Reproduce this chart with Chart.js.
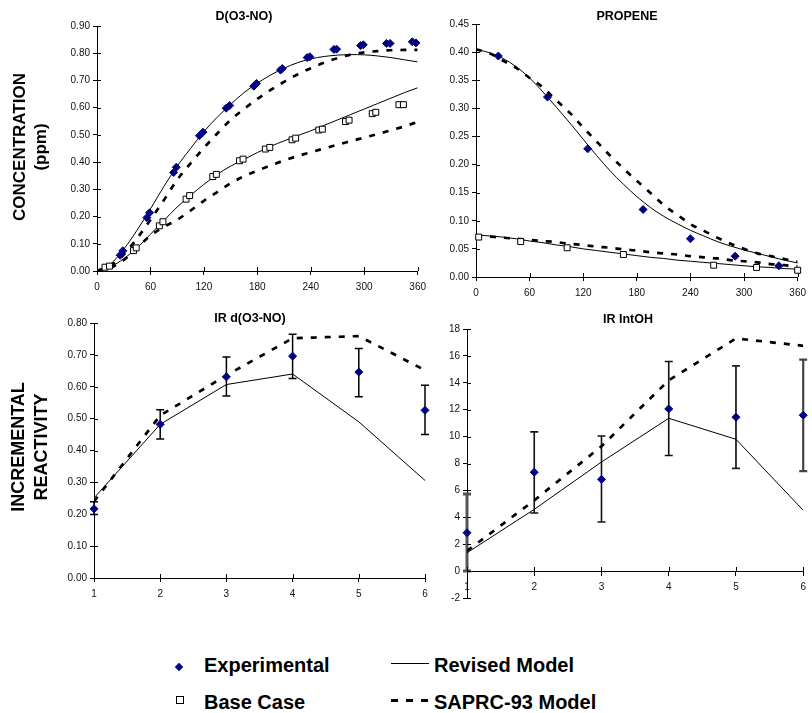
<!DOCTYPE html>
<html>
<head>
<meta charset="utf-8">
<script src="https://cdn.jsdelivr.net/npm/chart.js@4.4.0/dist/chart.umd.min.js"></script>
<style>
  body { margin: 0; background: #fff; width: 812px; height: 713px; position: relative; overflow: hidden;
         font-family: "Liberation Sans", Arial, sans-serif; color: #000; }
  canvas { position: absolute; }
  .title { position: absolute; font-weight: bold; font-size: 12.5px; transform: translate(-50%, -50%); white-space: nowrap; }
  .ytitle { position: absolute; font-weight: bold; text-align: center; transform: rotate(-90deg); white-space: nowrap; }
  .leg { position: absolute; font-weight: bold; font-size: 20px; line-height: 20px; white-space: nowrap; }
</style>
</head>
<body>
<canvas id="cA" width="432" height="300" style="left:0;top:0"></canvas>
<canvas id="cB" width="380" height="305" style="left:432px;top:0"></canvas>
<canvas id="cC" width="440" height="310" style="left:0;top:300px"></canvas>
<canvas id="cD" width="372" height="310" style="left:440px;top:305px"></canvas>

<div class="title" style="left:244px;top:16px">D(O3-NO)</div>
<div class="title" style="left:627px;top:16px">PROPENE</div>
<div class="title" style="left:250px;top:318px">IR d(O3-NO)</div>
<div class="title" style="left:628px;top:319px">IR IntOH</div>

<div class="ytitle" style="left:-70px;top:126px;width:200px;height:42px;font-size:17px;line-height:21px">CONCENTRATION<br>(ppm)</div>
<div class="ytitle" style="left:-70px;top:424px;width:200px;height:46px;font-size:18px;line-height:23px">INCREMENTAL<br>REACTIVITY</div>

<div style="position:absolute;left:176px;top:664px;width:6px;height:6px;background:#000080;transform:rotate(45deg)"></div>
<div class="leg" style="left:204px;top:655px">Experimental</div>
<div style="position:absolute;left:176px;top:696px;width:6px;height:6px;border:1px solid #000;background:#fff"></div>
<div class="leg" style="left:204px;top:692px">Base Case</div>
<div style="position:absolute;left:391px;top:663px;width:38px;height:1px;background:#000"></div>
<div class="leg" style="left:434px;top:655px">Revised Model</div>
<div style="position:absolute;left:391px;top:699px;width:37px;height:3px;background:repeating-linear-gradient(to right,#000 0 6.5px,transparent 6.5px 15px)"></div>
<div class="leg" style="left:434px;top:692px">SAPRC-93 Model</div>

<script>
const FONT = '"Liberation Sans", Arial, sans-serif';

// time axis (minutes) for the model curves
const timeGrid = [0, 15, 30, 45, 60, 75, 90, 105, 120, 135, 150, 165, 180,
                  195, 210, 225, 240, 255, 270, 285, 300, 315, 330, 345, 360];

// D(O3-NO)
const dExpTime = [26, 29, 56, 59, 86, 89, 115, 119, 145, 149, 176, 179, 206, 208,
                  236, 239, 266, 269, 296, 299, 325, 329, 354, 358];
const dExp = [0.058, 0.074, 0.196, 0.214, 0.362, 0.381, 0.497, 0.510, 0.598, 0.608,
              0.679, 0.689, 0.738, 0.744, 0.784, 0.787, 0.814, 0.815, 0.828, 0.831,
              0.836, 0.836, 0.842, 0.838];
const dBaseTime = [9, 14, 41, 44, 70, 74, 100, 104, 130, 134, 160, 164, 189, 194,
                   219, 223, 249, 253, 279, 283, 309, 313, 339, 344];
const dBase = [0.014, 0.018, 0.075, 0.085, 0.166, 0.181, 0.264, 0.277, 0.347, 0.355,
               0.405, 0.411, 0.448, 0.454, 0.482, 0.488, 0.518, 0.521, 0.549, 0.554,
               0.578, 0.583, 0.611, 0.611];
const dRevised = [0, 0.025, 0.08, 0.15, 0.228, 0.31, 0.385, 0.45, 0.512, 0.565, 0.612, 0.655, 0.69,
                  0.72, 0.745, 0.765, 0.779, 0.788, 0.793, 0.795, 0.794, 0.79, 0.784, 0.776, 0.768];
const dSaprc = [0, 0.02, 0.06, 0.12, 0.188, 0.26, 0.335, 0.395, 0.452, 0.505, 0.555, 0.595, 0.632,
                0.665, 0.695, 0.722, 0.745, 0.765, 0.782, 0.795, 0.803, 0.808, 0.811, 0.812, 0.812];
const dRevisedBase = [0, 0.015, 0.045, 0.085, 0.135, 0.185, 0.235, 0.278, 0.318, 0.355, 0.385, 0.41, 0.435,
                      0.458, 0.478, 0.497, 0.515, 0.535, 0.555, 0.575, 0.595, 0.615, 0.635, 0.655, 0.673];
const dSaprcBase = [0, 0.012, 0.04, 0.085, 0.13, 0.162, 0.188, 0.222, 0.258, 0.29, 0.322, 0.348, 0.369,
                    0.388, 0.406, 0.422, 0.436, 0.45, 0.464, 0.477, 0.49, 0.503, 0.517, 0.531, 0.548];

// PROPENE
const pExpTime = [25, 80, 125, 187, 240, 290, 339];
const pExp = [0.393, 0.32, 0.228, 0.12, 0.068, 0.037, 0.020];
const pBaseTime = [3, 50, 102, 165, 266, 314, 360];
const pBase = [0.071, 0.063, 0.052, 0.040, 0.021, 0.017, 0.012];
const pRevised = [0.405, 0.399, 0.389, 0.374, 0.354, 0.329, 0.302, 0.274, 0.245, 0.216, 0.189, 0.165, 0.143,
                  0.124, 0.108, 0.095, 0.083, 0.073, 0.063, 0.055, 0.048, 0.042, 0.036, 0.030, 0.025];
const pSaprc = [0.405, 0.398, 0.385, 0.372, 0.354, 0.337, 0.314, 0.292, 0.266, 0.241, 0.216, 0.193, 0.171,
                0.150, 0.128, 0.111, 0.094, 0.082, 0.070, 0.059, 0.050, 0.042, 0.037, 0.032, 0.027];
const pRevisedBase = [0.075, 0.073, 0.071, 0.068, 0.064, 0.061, 0.057, 0.054, 0.050, 0.047, 0.044, 0.041, 0.038,
                      0.035, 0.033, 0.030, 0.028, 0.026, 0.024, 0.022, 0.020, 0.018, 0.017, 0.015, 0.014];
const pSaprcBase = [0.074, 0.072, 0.070, 0.068, 0.066, 0.064, 0.062, 0.059, 0.057, 0.054, 0.052, 0.049, 0.047,
                    0.044, 0.042, 0.040, 0.037, 0.035, 0.033, 0.030, 0.028, 0.026, 0.023, 0.021, 0.019];

// incremental reactivity, runs 1..6
const irRuns = [1, 2, 3, 4, 5, 6];
const irDExp = [0.217, 0.482, 0.631, 0.696, 0.646, 0.526];
const irDLow = [0.199, 0.436, 0.571, 0.626, 0.569, 0.450];
const irDHigh = [0.239, 0.528, 0.693, 0.765, 0.720, 0.605];
const irDRevised = [0.251, 0.482, 0.607, 0.640, 0.490, 0.306];
const irDSaprc = [0.240, 0.510, 0.636, 0.752, 0.759, 0.652];

const irOHExp = [2.85, 7.35, 6.82, 12.06, 11.44, 11.59];
const irOHLow = [0, 4.32, 3.65, 8.59, 7.64, 7.44];
const irOHHigh = [5.73, 10.35, 10.05, 15.58, 15.26, 15.73];
const irOHRevised = [1.36, 4.59, 8.11, 11.36, 9.80, 4.52];
const irOHSaprc = [1.5, 5.26, 9.28, 14.19, 17.30, 16.75];

const pts = (xs, ys) => xs.map((x, i) => ({ x: x, y: ys[i] }));

function expSet(xs, ys) {
  return { data: pts(xs, ys), showLine: false, pointStyle: 'rectRot', pointRadius: 4,
           pointBackgroundColor: '#000080', pointBorderColor: '#000080', pointBorderWidth: 1, clip: 8 };
}
function baseSet(xs, ys) {
  return { data: pts(xs, ys), showLine: false, pointStyle: 'rect', pointRadius: 4.2,
           pointBackgroundColor: '#fff', pointBorderColor: '#000', pointBorderWidth: 1, clip: 8 };
}
function revisedSet(xs, ys, smooth) {
  return { data: pts(xs, ys), borderColor: '#000', borderWidth: 1, pointRadius: 0, fill: false,
           cubicInterpolationMode: smooth ? 'monotone' : 'default', tension: 0 };
}
function saprcSet(xs, ys, smooth) {
  return { data: pts(xs, ys), borderColor: '#000', borderWidth: 2.7, borderDash: [6, 8], pointRadius: 0,
           fill: false, cubicInterpolationMode: smooth ? 'monotone' : 'default', tension: 0 };
}

// excel style tick marks that cross the axis line
const crossTicks = {
  id: 'crossTicks',
  afterDraw(chart) {
    const { ctx, chartArea } = chart;
    const xs = chart.scales.x, ys = chart.scales.y;
    const axisY = Math.round(ys.getPixelForValue(Math.max(ys.min, 0)));
    ctx.save();
    ctx.strokeStyle = '#000';
    ctx.lineWidth = 1;
    ctx.beginPath();
    xs.ticks.forEach(t => {
      const px = Math.round(xs.getPixelForValue(t.value)) + 0.5;
      ctx.moveTo(px, axisY);
      ctx.lineTo(px, axisY - 4);
    });
    ys.ticks.forEach(t => {
      const py = Math.round(ys.getPixelForValue(t.value)) + 0.5;
      ctx.moveTo(chartArea.left, py);
      ctx.lineTo(chartArea.left + 4, py);
    });
    ctx.stroke();
    ctx.restore();
  }
};

function errorBars(xs, lows, highs, colors, widths) {
  return {
    id: 'errorBars',
    beforeDatasetsDraw(chart) {
      const { ctx } = chart;
      const sx = chart.scales.x, sy = chart.scales.y;
      ctx.save();
      xs.forEach((xv, i) => {
        const px = sx.getPixelForValue(xv);
        const top = sy.getPixelForValue(highs[i]);
        const bot = sy.getPixelForValue(lows[i]);
        ctx.strokeStyle = colors[i];
        ctx.lineWidth = widths[i];
        ctx.beginPath();
        ctx.moveTo(px, top); ctx.lineTo(px, bot);
        ctx.moveTo(px - 4, top); ctx.lineTo(px + 4, top);
        ctx.moveTo(px - 4, bot); ctx.lineTo(px + 4, bot);
        ctx.stroke();
      });
      ctx.restore();
    }
  };
}

function makePanel(id, o) {
  return new Chart(document.getElementById(id), {
    type: 'line',
    data: { datasets: o.datasets },
    options: {
      responsive: false,
      animation: false,
      layout: { padding: o.padding },
      plugins: { legend: { display: false }, tooltip: { enabled: false } },
      scales: {
        x: {
          type: 'linear', position: o.xPos || 'bottom', min: o.xMin, max: o.xMax,
          ticks: { stepSize: o.xStep, color: '#111', font: { size: 10, family: FONT }, padding: 6,
                   maxRotation: 0, autoSkip: false },
          grid: { drawOnChartArea: false, tickLength: 4, color: '#000' },
          border: { color: '#000', width: 1 },
          afterFit: s => { s.height = o.xh; }
        },
        y: {
          type: 'linear', min: o.yMin, max: o.yMax,
          ticks: { stepSize: o.yStep, color: '#111', font: { size: 10, family: FONT }, padding: 3,
                   autoSkip: false, callback: v => v.toFixed(o.yDec) },
          grid: { drawOnChartArea: false, tickLength: 4, color: '#000' },
          border: { color: '#000', width: 1 },
          afterFit: s => { s.width = o.yw; }
        }
      }
    },
    plugins: [crossTicks].concat(o.extra || [])
  });
}

makePanel('cA', {
  xMin: 0, xMax: 360, xStep: 60, yMin: 0, yMax: 0.9, yStep: 0.1, yDec: 2,
  yw: 97, xh: 29, padding: { left: 0, top: 26, right: 13, bottom: 0 },
  datasets: [
    expSet(dExpTime, dExp),
    baseSet(dBaseTime, dBase),
    revisedSet(timeGrid, dRevised, true),
    revisedSet(timeGrid, dRevisedBase, true),
    saprcSet(timeGrid, dSaprc, true),
    saprcSet(timeGrid, dSaprcBase, true)
  ]
});

makePanel('cB', {
  xMin: 0, xMax: 360, xStep: 60, yMin: 0, yMax: 0.45, yStep: 0.05, yDec: 2,
  yw: 44, xh: 28, padding: { left: 0, top: 24, right: 10, bottom: 0 },
  datasets: [
    expSet(pExpTime, pExp),
    baseSet(pBaseTime, pBase),
    revisedSet(timeGrid, pRevised, true),
    revisedSet(timeGrid, pRevisedBase, true),
    saprcSet(timeGrid, pSaprc, true),
    saprcSet(timeGrid, pSaprcBase, true)
  ]
});

makePanel('cC', {
  xMin: 1, xMax: 6, xStep: 1, yMin: 0, yMax: 0.8, yStep: 0.1, yDec: 2,
  yw: 94, xh: 32, padding: { left: 0, top: 23, right: 15, bottom: 0 },
  datasets: [
    expSet(irRuns, irDExp),
    revisedSet(irRuns, irDRevised, false),
    saprcSet(irRuns, irDSaprc, false)
  ],
  extra: [errorBars(irRuns, irDLow, irDHigh, Array(6).fill('#000'), Array(6).fill(1.5))]
});

makePanel('cD', {
  xMin: 1, xMax: 6, xStep: 1, yMin: -2, yMax: 18, yStep: 2, yDec: 0, xPos: { y: 0 },
  yw: 27, xh: 20, padding: { left: 0, top: 24, right: 6, bottom: 17 },
  datasets: [
    expSet(irRuns, irOHExp),
    revisedSet(irRuns, irOHRevised, false),
    saprcSet(irRuns, irOHSaprc, false)
  ],
  extra: [errorBars(irRuns, irOHLow, irOHHigh,
                    ['#555', '#111', '#111', '#111', '#222', '#444'], [3, 1.6, 1.6, 1.6, 1.8, 2.2])]
});
</script>
</body>
</html>
